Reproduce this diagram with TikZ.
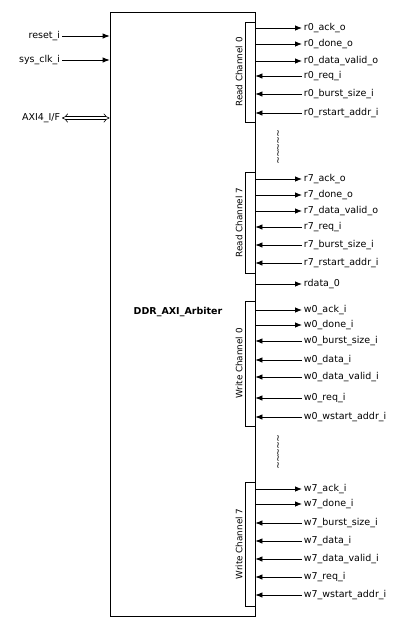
\documentclass[tikz,border=0pt]{standalone}
\usepackage{fontspec}
\setmainfont{DejaVu Sans}
\usetikzlibrary{arrows.meta}

\newcommand{\skipwave}{\textasciitilde\kern-1.2pt\textasciitilde\kern-1.2pt\textasciitilde\kern-1.2pt\textasciitilde\kern-1.2pt\textasciitilde}

\begin{document}
\begin{tikzpicture}[x=1pt, y=-1pt, line width=0.8pt]
        \tikzstyle{sig}=[anchor=west,inner sep=1.5pt,font=\fontsize{9.5}{11}\selectfont]
        \tikzstyle{port}=[anchor=east,inner sep=1.5pt,font=\fontsize{9.5}{11}\selectfont]
        \tikzstyle{chan}=[draw,fill=white,minimum width=10pt,inner sep=0pt]
        \tikzstyle{chanlabel}=[rotate=90,inner sep=0pt,font=\fontsize{8.8}{10}\selectfont]
        \tikzstyle{skipmark}=[rotate=-90,inner sep=0pt,font=\fontsize{9.5}{11}\selectfont]
        \tikzstyle{sigarrow}=[-{Latex[length=7pt,width=5.5pt]}]
        \useasboundingbox (0,0) rectangle (403,627);

        % main block
        \node[draw,minimum width=145pt,minimum height=604pt,inner sep=0pt] (ARB) at (182.5,314) {};
        \node[font=\fontsize{9.5}{11}\selectfont\bfseries] (ARB_name) at (178,312) {DDR\_AXI\_Arbiter};

        % left side
        \node[port] (P_1) at (62,36)  {reset\_i};
        \node[port] (P_2) at (62,60)  {sys\_clk\_i};
        \node[port] (P_3) at (62,118) {AXI4\_I/F};
        \draw[sigarrow] (P_1.east) -- (ARB.west |- P_1.east);
        \draw[sigarrow] (P_2.east) -- (ARB.west |- P_2.east);
        \draw[double,double distance=2.6pt,line width=0.6pt,{Implies[length=5pt]}-{Implies[length=5pt]}] (P_3.east) -- (ARB.west |- P_3.east);

        % read channel 0
        \node[chan,minimum height=100pt] (RC_0) at (250,72) {};
        \node[chanlabel] at (239,72) {Read Channel 0};
        \node[sig] (R0_1) at (302,28)  {r0\_ack\_o};
        \node[sig] (R0_2) at (302,44)  {r0\_done\_o};
        \node[sig] (R0_3) at (302,61)  {r0\_data\_valid\_o};
        \node[sig] (R0_4) at (302,76)  {r0\_req\_i};
        \node[sig] (R0_5) at (302,94)  {r0\_burst\_size\_i};
        \node[sig] (R0_6) at (302,113) {r0\_rstart\_addr\_i};
        \draw[sigarrow] (ARB.east |- R0_1.west) -- (R0_1.west);
        \draw[sigarrow] (ARB.east |- R0_2.west) -- (R0_2.west);
        \draw[sigarrow] (ARB.east |- R0_3.west) -- (R0_3.west);
        \draw[sigarrow] (R0_4.west) -- (ARB.east |- R0_4.west);
        \draw[sigarrow] (R0_5.west) -- (ARB.east |- R0_5.west);
        \draw[sigarrow] (R0_6.west) -- (ARB.east |- R0_6.west);

        \node[skipmark] (SKIP_R) at (277,147) {\skipwave};

        % read channel 7
        \node[chan,minimum height=101pt] (RC_7) at (250,222.5) {};
        \node[chanlabel] at (239,222.5) {Read Channel 7};
        \node[sig] (R7_1) at (302,179) {r7\_ack\_o};
        \node[sig] (R7_2) at (302,195) {r7\_done\_o};
        \node[sig] (R7_3) at (302,211) {r7\_data\_valid\_o};
        \node[sig] (R7_4) at (302,227) {r7\_req\_i};
        \node[sig] (R7_5) at (302,245) {r7\_burst\_size\_i};
        \node[sig] (R7_6) at (302,263) {r7\_rstart\_addr\_i};
        \node[sig] (RD_0) at (302,284) {rdata\_0};
        \draw[sigarrow] (ARB.east |- R7_1.west) -- (R7_1.west);
        \draw[sigarrow] (ARB.east |- R7_2.west) -- (R7_2.west);
        \draw[sigarrow] (ARB.east |- R7_3.west) -- (R7_3.west);
        \draw[sigarrow] (R7_4.west) -- (ARB.east |- R7_4.west);
        \draw[sigarrow] (R7_5.west) -- (ARB.east |- R7_5.west);
        \draw[sigarrow] (R7_6.west) -- (ARB.east |- R7_6.west);
        \draw[sigarrow] (ARB.east |- RD_0.west) -- (RD_0.west);

        % write channel 0
        \node[chan,minimum height=125pt] (WC_0) at (250,363.5) {};
        \node[chanlabel] at (239,363.5) {Write Channel 0};
        \node[sig] (W0_1) at (302,310) {w0\_ack\_i};
        \node[sig] (W0_2) at (302,325) {w0\_done\_i};
        \node[sig] (W0_3) at (302,341) {w0\_burst\_size\_i};
        \node[sig] (W0_4) at (302,360) {w0\_data\_i};
        \node[sig] (W0_5) at (302,377) {w0\_data\_valid\_i};
        \node[sig] (W0_6) at (302,398) {w0\_req\_i};
        \node[sig] (W0_7) at (302,417) {w0\_wstart\_addr\_i};
        \draw[sigarrow] (ARB.east |- W0_1.west) -- (W0_1.west);
        \draw[sigarrow] (ARB.east |- W0_2.west) -- (W0_2.west);
        \draw[sigarrow] (W0_3.west) -- (ARB.east |- W0_3.west);
        \draw[sigarrow] (W0_4.west) -- (ARB.east |- W0_4.west);
        \draw[sigarrow] (W0_5.west) -- (ARB.east |- W0_5.west);
        \draw[sigarrow] (W0_6.west) -- (ARB.east |- W0_6.west);
        \draw[sigarrow] (W0_7.west) -- (ARB.east |- W0_7.west);

        \node[skipmark] (SKIP_W) at (277,452) {\skipwave};

        % write channel 7
        \node[chan,minimum height=124pt] (WC_7) at (250,544) {};
        \node[chanlabel] at (239,544) {Write Channel 7};
        \node[sig] (W7_1) at (302,489) {w7\_ack\_i};
        \node[sig] (W7_2) at (302,504) {w7\_done\_i};
        \node[sig] (W7_3) at (302,523) {w7\_burst\_size\_i};
        \node[sig] (W7_4) at (302,541) {w7\_data\_i};
        \node[sig] (W7_5) at (302,559) {w7\_data\_valid\_i};
        \node[sig] (W7_6) at (302,577) {w7\_req\_i};
        \node[sig] (W7_7) at (302,595) {w7\_wstart\_addr\_i};
        \draw[sigarrow] (ARB.east |- W7_1.west) -- (W7_1.west);
        \draw[sigarrow] (ARB.east |- W7_2.west) -- (W7_2.west);
        \draw[sigarrow] (W7_3.west) -- (ARB.east |- W7_3.west);
        \draw[sigarrow] (W7_4.west) -- (ARB.east |- W7_4.west);
        \draw[sigarrow] (W7_5.west) -- (ARB.east |- W7_5.west);
        \draw[sigarrow] (W7_6.west) -- (ARB.east |- W7_6.west);
        \draw[sigarrow] (W7_7.west) -- (ARB.east |- W7_7.west);
\end{tikzpicture}
\end{document}
